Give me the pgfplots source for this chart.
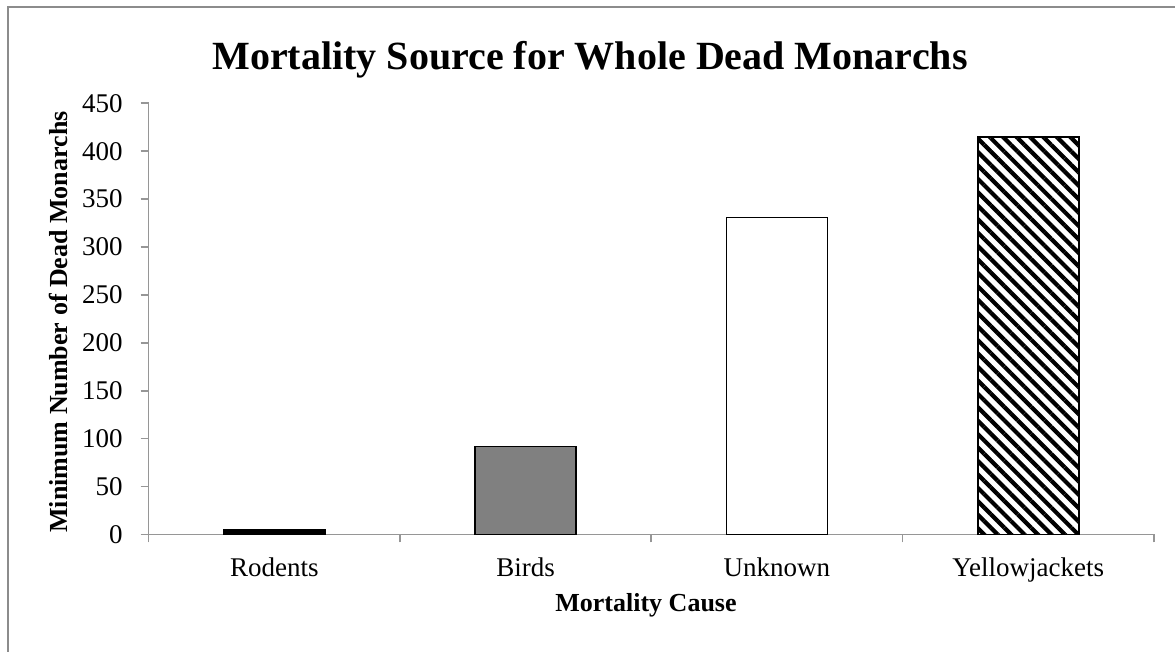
\documentclass[border=0pt]{standalone}
\usepackage{fontspec}
\setmainfont{Liberation Serif}
\usepackage{pgfplots}
\pgfplotsset{compat=1.18}
\usetikzlibrary{patterns.meta}
\definecolor{axgray}{RGB}{150,150,150}
\definecolor{framegray}{RGB}{140,140,140}
\definecolor{birdgray}{RGB}{128,128,128}

\begin{document}
\begin{tikzpicture}[x=0.5pt,y=0.5pt]
\useasboundingbox (0,0) rectangle (1175,652);
\clip (0,0) rectangle (1175,652);
\fill[white] (0,0) rectangle (1175,652);
% chart area border, runs off the right and bottom edges
\draw[framegray, line width=0.8pt] (8,-20) -- (8,645) -- (1200,645);

\begin{axis}[
  at={(74.3pt,58.75pt)}, anchor=south west,
  scale only axis, width=502.7pt, height=215.6pt,
  xmin=-0.5, xmax=3.5, ymin=0, ymax=450,
  axis lines*=left,
  axis line style={axgray, line width=0.8pt},
  ytick={0,50,...,450},
  xtick={0,1,2,3},
  xticklabels={Rodents,Birds,Unknown,Yellowjackets},
  minor xtick={-0.5,0.5,1.5,2.5,3.5},
  tick align=outside,
  major tick length=4pt, minor tick length=4pt,
  tick style={axgray, line width=0.8pt},
  major x tick style={draw=none},
  ybar, bar width=0.402,
  ticklabel style={font=\fontsize{13.5}{15}\selectfont},
  yticklabel style={xshift=-5.5pt},
  xticklabel style={yshift=-4pt},
  /pgf/number format/assume math mode=true,
]
\addplot[bar shift=0pt, fill=black, draw=black, line width=0.75pt] coordinates {(0,5)};
\addplot[bar shift=0pt, fill=birdgray, draw=black, line width=0.75pt] coordinates {(1,92)};
\addplot[bar shift=0pt, fill=white, draw=black, line width=0.75pt] coordinates {(2,331)};
\addplot[bar shift=0pt, draw=black, line width=0.75pt, fill=white,
  postaction={pattern={Lines[angle=-45,distance=4.75pt,line width=2.1pt]}, pattern color=black}]
  coordinates {(3,415)};
\end{axis}

\node[anchor=base, font=\bfseries\fontsize{20}{24}\selectfont] at (590,582) {Mortality Source for Whole Dead Monarchs};
\node[rotate=90, anchor=base, font=\bfseries\fontsize{13}{15}\selectfont] at (68,330) {Minimum Number of Dead Monarchs};
\node[anchor=base, font=\bfseries\fontsize{13}{15}\selectfont] at (646,40) {Mortality Cause};
\end{tikzpicture}
\end{document}
